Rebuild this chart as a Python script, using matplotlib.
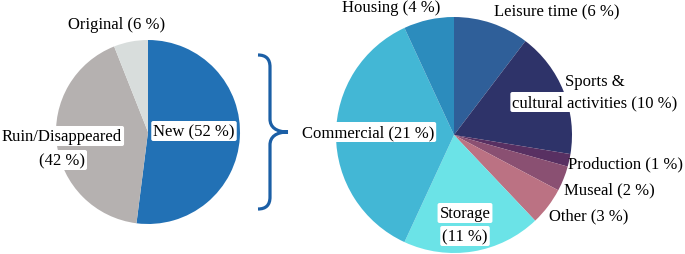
import matplotlib
matplotlib.use("Agg")
import matplotlib.pyplot as plt
from matplotlib.path import Path
from matplotlib.patches import PathPatch

# left pie: overall state of the buildings
state_labels = ["New", "Ruin/Disappeared", "Original"]
state_values = [52, 42, 6]
state_colors = ["#2271b5", "#b5b1b0", "#d8dddc"]

# right pie: use of the new buildings
use_labels = ["Leisure time", "Sports & cultural activities", "Production", "Museal",
              "Other", "Storage", "Commercial", "Housing"]
use_values = [6, 10, 1, 2, 3, 11, 21, 4]
use_colors = ["#2f5f99", "#2e3369", "#583062", "#8a5072", "#bb7283",
              "#6be3e7", "#43b7d5", "#2c8cbd"]

W, H = 685, 255
plt.rcParams['font.family'] = ['Liberation Serif', 'DejaVu Serif']
fs = 12

fig = plt.figure(figsize=(W / 100, H / 100), dpi=100)
ax = fig.add_axes([0, 0, 1, 1])


def Y(y):
    # image rows -> data y
    return H - y


ax.pie(state_values, colors=state_colors, startangle=90, counterclock=False,
       center=(148, Y(133)), radius=92, frame=True)
ax.pie(use_values, colors=use_colors, startangle=90, counterclock=False,
       center=(454, Y(136)), radius=118, frame=True)

box = dict(boxstyle="round,pad=0.12", fc="white", ec="none")


def label(x, y, s, boxed=True, ha="center"):
    ax.text(x, Y(y), s, fontsize=fs, ha=ha, va="center",
            bbox=box if boxed else None)


label(117, 25, "Original (6 %)", boxed=False)
label(194, 132, "New (52 %)")
label(62, 137, "Ruin/Disappeared")
label(62, 161, "(42 %)")

label(391, 8, "Housing (4 %)", boxed=False)
label(557, 12, "Leisure time (6 %)", boxed=False)
label(595, 82, "Sports &", boxed=False)
label(595, 103, "cultural activities (10 %)")
label(626, 164, "Production (1 %)", boxed=False)
label(609, 190, "Museal (2 %)", boxed=False)
label(589, 216, "Other (3 %)", boxed=False)
label(465, 214, "Storage")
label(465, 237, "(11 %)")
label(368, 133, "Commercial (21 %)")

# curly brace between the two pies
pts = [(258, 56), (266, 56), (270, 60), (270, 68),
       (270, 120),
       (270, 128), (276, 133), (288, 133),
       (276, 133), (270, 138), (270, 146),
       (270, 198),
       (270, 206), (266, 210), (258, 210)]
codes = [Path.MOVETO, Path.CURVE4, Path.CURVE4, Path.CURVE4,
         Path.LINETO,
         Path.CURVE4, Path.CURVE4, Path.CURVE4,
         Path.CURVE4, Path.CURVE4, Path.CURVE4,
         Path.LINETO,
         Path.CURVE4, Path.CURVE4, Path.CURVE4]
brace = Path([(x, Y(y)) for x, y in pts], codes)
ax.add_patch(PathPatch(brace, fc="none", ec="#1b5fa6", lw=2.3, capstyle="butt"))

ax.set_xlim(0, W)
ax.set_ylim(0, H)
ax.set_aspect("equal")
ax.axis("off")

fig.savefig("out.png", dpi=100)
